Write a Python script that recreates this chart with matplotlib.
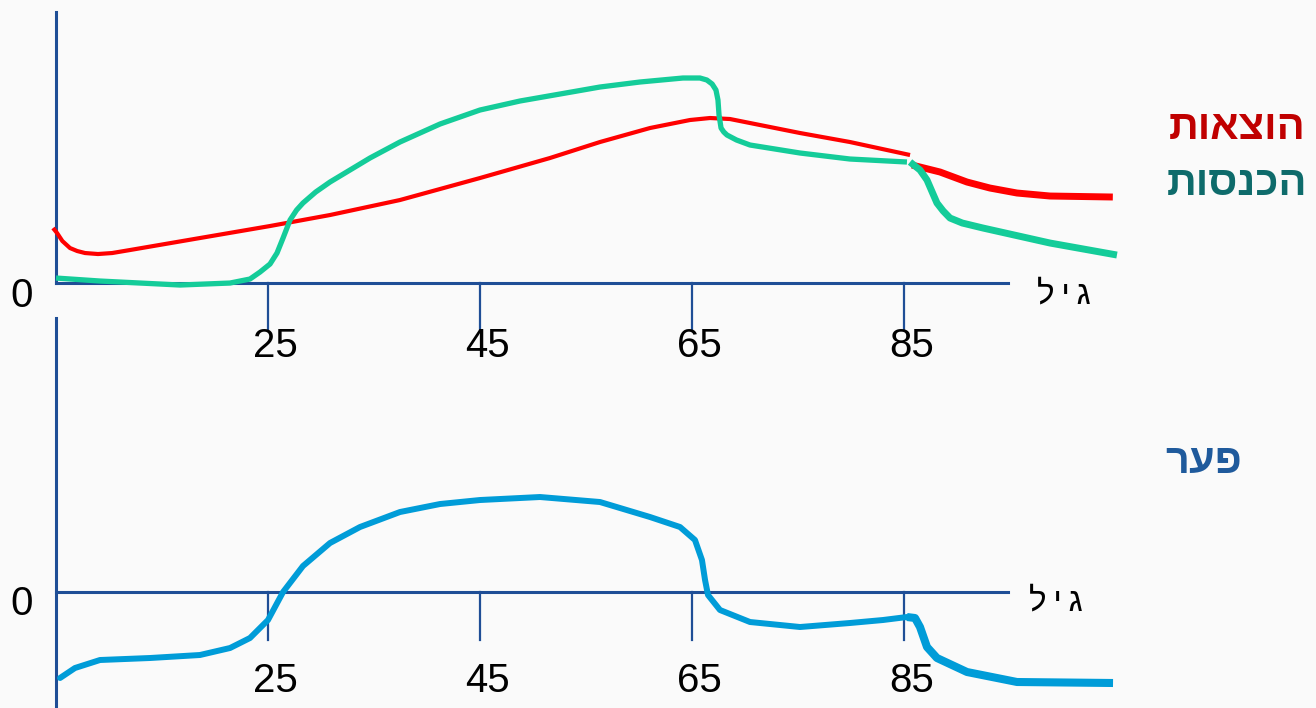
import matplotlib.pyplot as plt

# ages on the x axis, arbitrary money units on y (0 = axis line)
exp_age = [4.72, 5.1, 5.6, 6.32, 7.0, 7.74, 8.96, 10.3, 11.98, 18.58, 25.19, 30.85, 37.45,
           45.0, 51.6, 56.32, 61.04, 64.81, 66.7, 68.58, 70.47, 75.19, 79.9, 85.57]
exp_val = [55, 50, 42, 35, 32, 30, 29, 30, 33, 45, 57, 68, 83, 105, 125, 141, 155, 163, 165,
           164, 160, 150, 141, 128]
exp_old_age = [85.75, 88.4, 90.94, 93.1, 95.66, 98.77, 104.7]
exp_old_val = [118, 111, 101, 95, 90, 87, 86]

inc_age = [5.0, 9.15, 16.7, 21.42, 23.3, 24.25, 25.19, 25.85, 26.42, 27.08, 27.7, 28.3, 29.5,
           30.85, 34.62, 37.45, 41.23, 45.0, 48.77, 52.55, 56.32, 60.09, 64.15, 65.75, 66.4,
           66.9, 67.26, 67.45, 67.55, 67.74, 68.0, 68.3, 69.2, 70.47, 75.19, 79.9, 85.28]
inc_val = [5, 2, -2, 0, 4, 11, 19, 30, 45, 63, 73, 80, 91, 101, 125, 141, 159, 173, 182, 189,
           196, 201, 205, 205, 203, 199, 193, 183, 168, 155, 151, 148, 143, 138, 130, 124,
           121]
inc_old_age = [85.57, 86.51, 87.17, 87.7, 88.11, 88.7, 89.34, 90.5, 92.45, 98.77, 105.09]
inc_old_val = [121, 113, 103, 90, 80, 72, 65, 60, 55, 40, 28]

gap_age = [5.38, 6.79, 9.15, 13.87, 18.58, 21.42, 23.3, 25.0, 26.42, 28.3, 30.85, 33.68,
           37.45, 41.23, 45.0, 50.66, 56.32, 61.04, 63.87, 65.28, 65.94, 66.23, 66.51,
           67.64, 70.47, 75.19, 79.9, 83.02, 85.28]
gap_val = [-86, -76, -68, -66, -63, -56, -46, -28, 0, 26, 49, 65, 80, 88, 92, 95, 90, 75,
           65, 52, 32, 12, -3, -18, -30, -35, -31, -28, -25]
gap_old_age = [85.28, 86.04, 86.51, 87.17, 88.11, 90.94, 95.66, 104.72]
gap_old_val = [-25, -26, -35, -55, -66, -80, -90, -91]

ticks = [25, 45, 65, 85]

AX = "#1F4E96"
HEB = ["Liberation Sans", "DejaVu Sans"]


def heb(s):
    # matplotlib has no bidi, so feed hebrew in visual order
    return s[::-1]


fig = plt.figure(figsize=(13.16, 7.08), dpi=100, facecolor="#FAFAFA")
top = fig.add_axes([0, 0.5508, 1, 0.4492])
bot = fig.add_axes([0, 0, 1, 0.5508])
for ax in (top, bot):
    ax.set_xlim(-0.283, 123.868)
    ax.axis("off")
top.set_ylim(-35, 283)
bot.set_ylim(-116, 274)

age_word = heb("ג י ל").replace(" ", "\u2009")

# top panel axes
top.plot([5, 5], [0, 271], color=AX, lw=2.2, clip_on=False)
top.plot([5, 94.8], [0, 0], color=AX, lw=2.2, clip_on=False)
for t in ticks:
    top.plot([t, t], [0, -47], color=AX, lw=1.6, clip_on=False)
    top.text(t + 0.7, -63, str(t), ha="center", va="center", fontsize=29,
             family=HEB, clip_on=False)
top.text(1.8, -13, "0", ha="center", va="center", fontsize=29, family=HEB)
top.text(100.1, -12, age_word, ha="center", va="center", fontsize=24, family=HEB)

top.plot(exp_age, exp_val, color="#FF0000", lw=3.0, solid_capstyle="butt")
top.plot(exp_old_age, exp_old_val, color="#FF0000", lw=5.0, solid_capstyle="butt")
top.plot(inc_age, inc_val, color="#14CC99", lw=3.8, solid_capstyle="butt")
top.plot(inc_old_age, inc_old_val, color="#14CC99", lw=5.0, solid_capstyle="butt")

# bottom panel axes
bot.plot([5, 5], [274, -116], color=AX, lw=2.2, clip_on=False)
bot.plot([5, 94.8], [0, 0], color=AX, lw=2.2)
for t in ticks:
    bot.plot([t, t], [0, -48], color=AX, lw=1.6)
    bot.text(t + 0.7, -89, str(t), ha="center", va="center", fontsize=29, family=HEB)
bot.text(1.8, -12, "0", ha="center", va="center", fontsize=29, family=HEB)
bot.text(99.3, -10, age_word, ha="center", va="center", fontsize=24, family=HEB)

bot.plot(gap_age, gap_val, color="#009CD8", lw=4.3, solid_capstyle="round")
bot.plot(gap_old_age, gap_old_val, color="#009CD8", lw=5.8, solid_capstyle="butt")

# series names
fig.text(1237 / 1316, 1 - 128 / 708, heb("הוצאות"), ha="center", va="center",
         fontsize=30, fontweight="bold", color="#C00000", family=HEB)
fig.text(1237 / 1316, 1 - 184 / 708, heb("הכנסות"), ha="center", va="center",
         fontsize=30, fontweight="bold", color="#0E6B6B", family=HEB)
fig.text(1204 / 1316, 1 - 462 / 708, heb("פער"), ha="center", va="center",
         fontsize=30, fontweight="bold", color="#1F5A9C", family=HEB)

fig.savefig("out.png", dpi=100, facecolor=fig.get_facecolor())
